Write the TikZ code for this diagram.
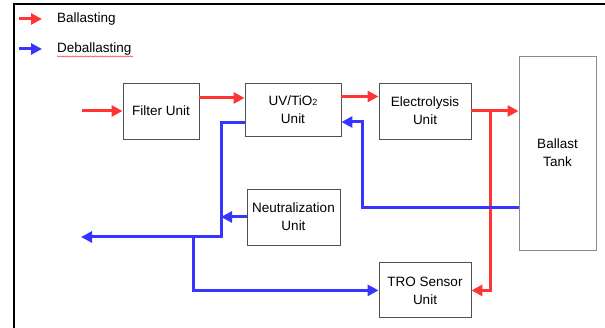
\documentclass[tikz,border=0pt]{standalone}
\usepackage{fontspec}
\setmainfont{Liberation Sans}
\usetikzlibrary{arrows.meta,positioning,decorations.pathmorphing}
\definecolor{ballDraw}{HTML}{FF3535}
\definecolor{deballDraw}{HTML}{3535FF}
\definecolor{boxDraw}{HTML}{505050}
\definecolor{tankDraw}{HTML}{8A8A8A}
\tikzset{
  font=\fontsize{13.5}{18}\selectfont,
  box/.style   ={draw=boxDraw, fill=white, align=center, inner sep=2pt, line width=0.9pt},
  unit/.style  ={box, minimum width=92pt, minimum height=56pt},
  tank/.style  ={box, draw=tankDraw, minimum width=77pt, minimum height=194pt},
  ball/.style  ={-{Triangle[length=11pt,width=11pt]}, line width=3pt, draw=ballDraw},
  deball/.style={-{Triangle[length=11pt,width=11pt]}, line width=3pt, draw=deballDraw},
  legend/.style={anchor=west, inner sep=0pt},
}

\begin{document}
\begin{tikzpicture}[x=1pt, y=-1pt]
  \useasboundingbox (0,0) rectangle (605,328);
  % frame (top and left edges only)
  \draw[line width=2pt] (14,328) -- (14,4) -- (605,4);

  % legend
  \coordinate (lb0) at (19,19);
  \coordinate (lb1) at (42,19);
  \coordinate (ld0) at (19,49);
  \coordinate (ld1) at (42,49);
  \draw[ball]   (lb0) -- (lb1);
  \draw[deball] (ld0) -- (ld1);
  \node[legend] (lball)   at (57,19) {Ballasting};
  \node[legend] (ldeball) at (57,49) {Deballasting};
  \draw[ballDraw, line width=0.5pt, decorate,
        decoration={snake, amplitude=0.6pt, segment length=2.5pt}]
        (ldeball.south west) ++(0,-1pt) -- ++(76pt,0);

  % units
  \node[unit, minimum width=76pt] (filter) at (161,111)   {Filter Unit};
  \node[unit, minimum width=96pt, minimum height=53pt] (uv) at (293,109.5)
        {UV/TiO{\fontsize{9}{9}\selectfont\raisebox{-0.5pt}{2}}\\Unit};
  \node[unit] (elec) at (425,111)                         {Electrolysis\\Unit};
  \node[tank] (tank) at (557.5,153)                       {Ballast\\Tank};
  \node[unit, minimum width=93pt] (neut) at (293.5,217)   {Neutralization\\Unit};
  \node[unit, minimum height=55pt, below=123pt of elec] (tro) {TRO Sensor\\Unit};

  % ballasting flow
  \coordinate (inlet) at (82,111);
  \draw[ball] (inlet) -- (filter.west);
  \draw[ball] ([yshift=13pt]filter.east) coordinate (f1) -- (f1 -| uv.west);
  \draw[ball] ([yshift=13pt]uv.east) coordinate (u1) -- (u1 -| elec.west);
  \draw[ball] (elec.east) -- (elec.east -| tank.west);
  \coordinate (rj) at (490,111);
  \draw[ball] (rj) |- (tro.east);

  % deballasting flow
  \coordinate (tk)  at ([yshift=-55pt]tank.west);
  \coordinate (uvin) at ([yshift=-12.5pt]uv.east);
  \draw[deball] (tk) -| ([xshift=21pt]uvin) -- (uvin);
  \coordinate (jn)     at (221,237);
  \coordinate (outlet) at (81,237);
  \coordinate (br)     at (193,237);
  \draw[deball] ([yshift=-13pt]uv.west) -| (jn) -- (outlet);
  \draw[deball] (neut.west) -- (neut.west -| jn);
  \draw[deball] (br) |- (tro.west);
\end{tikzpicture}
\end{document}
